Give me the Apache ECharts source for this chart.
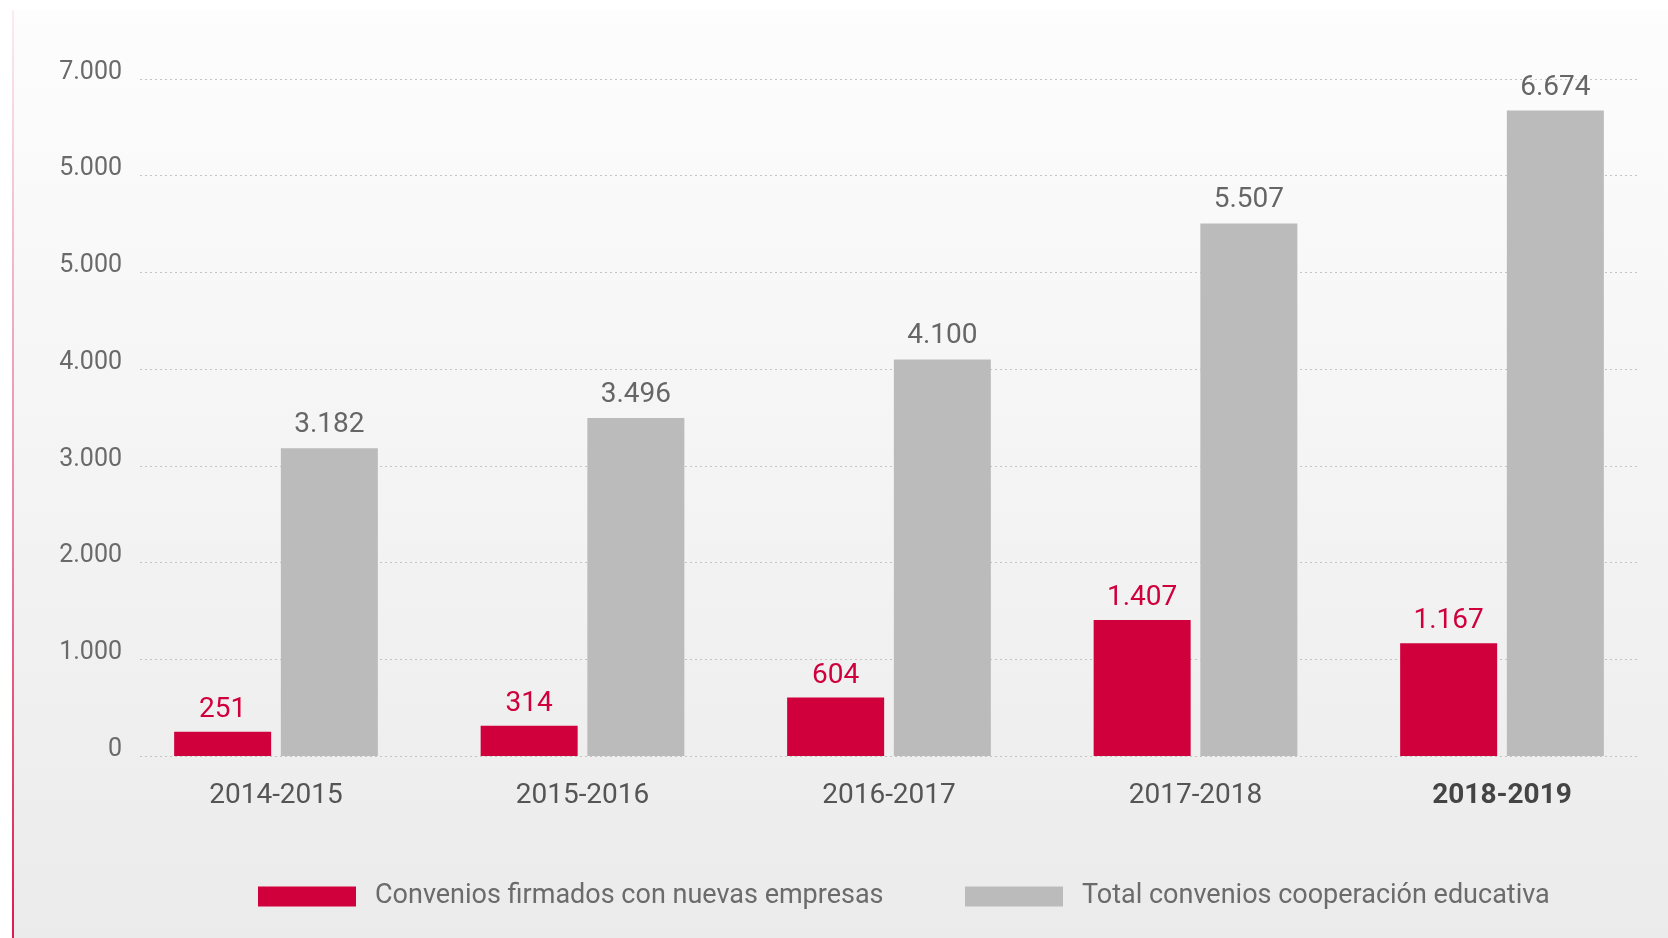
<!DOCTYPE html>
<html>
<head>
<meta charset="utf-8">
<script src="https://cdn.jsdelivr.net/npm/echarts@6/dist/echarts.min.js"></script>
<style>
html,body{margin:0;padding:0;background:#ffffff;}
#chart{width:1668px;height:938px;}
</style>
</head>
<body>
<div id="chart"></div>
<script>
// ---- data ----
const categories = ['2014-2015', '2015-2016', '2016-2017', '2017-2018', '2018-2019'];
const newCompanies = [251, 314, 604, 1407, 1167];
const totalAgreements = [3182, 3496, 4100, 5507, 6674];
const seriesNames = ['Convenios firmados con nuevas empresas', 'Total convenios cooperación educativa'];
const yTickLabels = ['0', '1.000', '2.000', '3.000', '4.000', '5.000', '5.000', '7.000'];
const highlightCategory = '2018-2019';

function hasFont(name) {
  const ctx = document.createElement('canvas').getContext('2d');
  const s = 'mmmmmwwwiiil 0123456789 abc';
  let diff = false;
  ['monospace', 'serif'].forEach(function (base) {
    ctx.font = '40px ' + base;
    const a = ctx.measureText(s).width;
    ctx.font = "40px '" + name + "', " + base;
    const b = ctx.measureText(s).width;
    if (a !== b) diff = true;
  });
  return diff;
}
const narrow = hasFont('Liberation Sans Narrow');
const FONT = narrow ? "'Liberation Sans Narrow', Roboto, sans-serif" : "Roboto, 'Liberation Sans', sans-serif";
const FS = narrow ? { y: 29, cat: 32, data: 31, legend: 32 } : { y: 25, cat: 28, data: 28, legend: 27 };

const RED = '#cf003b';
const GREY = '#bbbbbb';

function fmt(v) { return String(v).replace(/\B(?=(\d{3})+(?!\d))/g, '.'); }

const chart = echarts.init(document.getElementById('chart'), null, { renderer: 'canvas' });

const option = {
  animation: false,
  backgroundColor: '#ffffff',
  textStyle: { fontFamily: FONT },
  graphic: [
    {
      type: 'rect', z: -10, silent: true,
      shape: { x: 12, y: 10, width: 1668 - 12, height: 938 - 10 },
      style: {
        fill: new echarts.graphic.LinearGradient(0, 0, 0, 1, [
          { offset: 0, color: '#fdfdfd' }, { offset: 1, color: '#ebebeb' }
        ])
      }
    },
    {
      type: 'rect', z: -9, silent: true,
      shape: { x: 12, y: 10, width: 2, height: 938 - 10 },
      style: {
        fill: new echarts.graphic.LinearGradient(0, 0, 0, 1, [
          { offset: 0, color: 'rgba(225,40,95,0.08)' },
          { offset: 0.5, color: 'rgba(225,40,95,0.5)' },
          { offset: 1, color: 'rgba(222,25,85,1)' }
        ])
      }
    }
  ],
  grid: [
    { left: 140, right: 31, top: 79, bottom: 182 },
    { left: 122.75, right: 12.75, top: 79, bottom: 182 }
  ],
  legend: [
    {
      data: [seriesNames[0]], left: 258, top: 883, padding: 0,
      icon: 'rect', itemWidth: 98, itemHeight: 20,
      textStyle: { fontSize: FS.legend, color: '#6b6b6b', fontFamily: FONT, padding: [0, 0, 0, 14] }
    },
    {
      data: [seriesNames[1]], left: 965, top: 883, padding: 0,
      icon: 'rect', itemWidth: 98, itemHeight: 20,
      textStyle: { fontSize: FS.legend, color: '#6b6b6b', fontFamily: FONT, padding: [0, 0, 0, 14] }
    }
  ],
  xAxis: [
    { type: 'category', gridIndex: 0, data: categories, show: false },
    {
      type: 'category', gridIndex: 1, data: categories,
      axisLine: { show: false }, axisTick: { show: false },
      axisLabel: {
        margin: 26, fontSize: FS.cat, color: '#555555', fontFamily: FONT,
        formatter: function (v) { return v === highlightCategory ? '{b|' + v + '}' : v; },
        rich: { b: { fontSize: FS.cat, fontWeight: 'bold', color: '#444444', fontFamily: FONT } }
      }
    }
  ],
  yAxis: [
    {
      type: 'value', gridIndex: 0, min: 0, max: 7000, interval: 1000,
      axisLine: { show: false }, axisTick: { show: false },
      splitLine: { show: true, lineStyle: { color: '#c4c4c4', width: 1, type: [2, 3] } },
      axisLabel: {
        margin: 18, fontSize: FS.y, color: '#6a6a6a', fontFamily: FONT,
        verticalAlign: 'bottom', lineHeight: 13,
        formatter: function (v) { return yTickLabels[Math.round(v / 1000)]; }
      }
    },
    {
      type: 'value', gridIndex: 1, min: 0, max: 7000, interval: 1000, show: false,
      splitLine: { show: false }
    }
  ],
  series: [
    {
      name: seriesNames[0], type: 'bar', xAxisIndex: 1, yAxisIndex: 1,
      data: newCompanies, barWidth: 97, barGap: '10%',
      itemStyle: { color: RED },
      label: {
        show: true, position: 'top', distance: 8, color: RED,
        fontSize: FS.data, fontFamily: FONT, formatter: function (p) { return fmt(p.value); }
      }
    },
    {
      name: seriesNames[1], type: 'bar', xAxisIndex: 1, yAxisIndex: 1,
      data: totalAgreements, barWidth: 97, barGap: '10%',
      itemStyle: { color: GREY },
      label: {
        show: true, position: 'top', distance: 9, color: '#666666',
        fontSize: FS.data, fontFamily: FONT, formatter: function (p) { return fmt(p.value); }
      }
    }
  ]
};
chart.setOption(option);
</script>
</body>
</html>
